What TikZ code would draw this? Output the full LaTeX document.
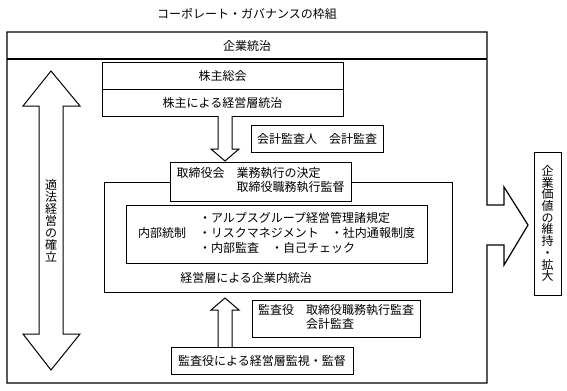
\documentclass[tikz,border=0pt]{standalone}
\usepackage{fontspec}
\setmainfont{Noto Sans CJK JP}
\newfontfamily\jp{Noto Sans CJK JP}
\begin{document}
\begin{tikzpicture}[x=0.75pt,y=-0.75pt,
  bx/.style={draw, line width=0.75pt, fill=white, inner sep=0pt, font=\jp\fontsize{9}{10.5}\selectfont},
  txt/.style={inner sep=0pt, font=\jp\fontsize{9}{10.5}\selectfont},
  blk/.style={draw, line width=0.75pt, fill=white, line join=miter},
  frame/.style={draw, line width=0.9pt, line join=miter}]
\useasboundingbox (0,0) rectangle (567,390);
% title
\node[txt] (title) at (247,14) {コーポレート・ガバナンスの枠組};
% outer frame with right arrow
\draw[frame] (7,32) -- (487,32) -- (487,205) -- (504,205) -- (504,187) -- (528,225)
  -- (504,265) -- (504,245) -- (487,245) -- (487,383) -- (7,383) -- cycle;
\draw[frame] (7,59) -- (487,59);
\node[txt] (head) at (247,46) {企業統治};
% left double arrow
\draw[blk] (51,71) -- (80,106) -- (63,106) -- (63,334) -- (80,334) -- (51,370)
  -- (23,334) -- (39,334) -- (39,106) -- (23,106) -- cycle;
\node[txt, align=center, font=\jp\fontsize{9}{9}\selectfont] (legal) at (51,221)
  {適\\法\\経\\営\\の\\確\\立};
% shareholders
\node[bx, minimum width=180.75pt, minimum height=20.25pt] (sh1) at (222.5,75.5) {株主総会};
\node[bx, minimum width=180.75pt, minimum height=20.25pt] (sh2) at (222.5,102.5) {株主による経営層統治};
% down arrow
\draw[blk] (218,116) -- (218,149) -- (211,149) -- (225,161) -- (239,149) -- (232,149) -- (232,116);
% accounting auditor
\node[bx, minimum width=99pt, minimum height=20.25pt] (aud1) at (317,138.5) {会計監査人　会計監査};
% management box
\node[bx, minimum width=261pt, minimum height=82.5pt] (mgmt) at (278,237) {};
\node[bx, minimum width=225.75pt, minimum height=43.5pt, font=\jp\fontsize{9}{11.25}\selectfont] (inner) at (276.5,234)
  {\begin{tabular}{@{}l@{\hspace{9.75pt}}l@{}}
   & ・アルプスグループ経営管理諸規定\\
   内部統制 & ・リスクマネジメント　・社内通報制度\\
   & ・内部監査　・自己チェック
   \end{tabular}};
\node[txt, anchor=west] (mgmttxt) at (180,278) {経営層による企業内統治};
% board
\node[bx, minimum width=135.75pt, minimum height=29.25pt] (board) at (260.5,181.5)
  {\begin{tabular}{@{}l@{\hspace{9pt}}l@{}}取締役会 & 業務執行の決定\\ & 取締役職務執行監督\end{tabular}};
% up arrow
\draw[blk] (218,347) -- (218,310) -- (211,310) -- (225,298) -- (239,310) -- (232,310) -- (232,347);
% statutory auditor
\node[bx, minimum width=126pt, minimum height=27.75pt] (aud2) at (336,318.5)
  {\begin{tabular}{@{}l@{\hspace{9pt}}l@{}}監査役 & 取締役職務執行監査\\ & 会計監査\end{tabular}};
\node[bx, minimum width=136.5pt, minimum height=20.25pt] (bottom) at (262,360.5) {監査役による経営層監視・監督};
% value box
\node[bx, minimum width=20.25pt, minimum height=107.25pt, align=center, font=\jp\fontsize{9}{8.8}\selectfont] (value) at (547.5,223.5)
  {企\\業\\価\\値\\の\\維\\持\\・\\拡\\大};
\end{tikzpicture}
\end{document}
